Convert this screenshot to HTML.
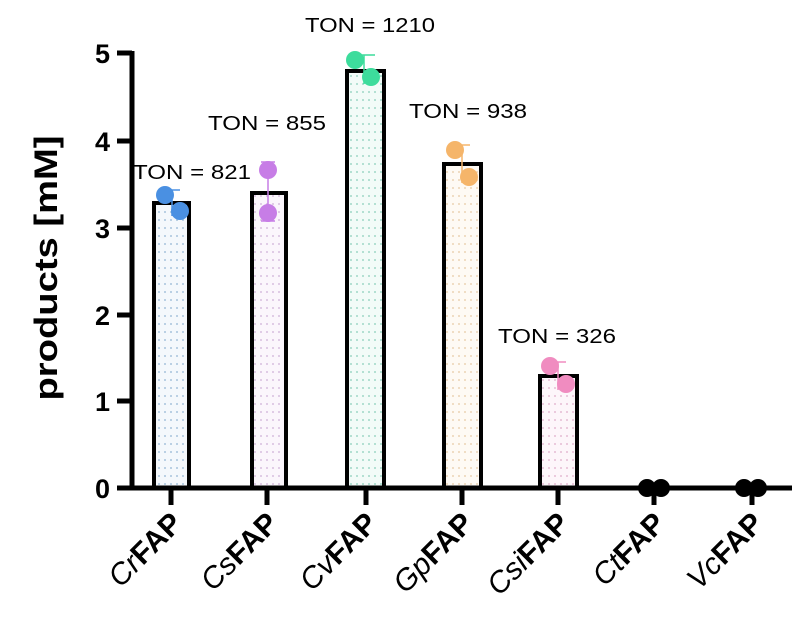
<!DOCTYPE html>
<html><head><meta charset="utf-8"><style>html,body{margin:0;padding:0;background:#fff}svg{display:block}</style></head>
<body>
<svg width="806" height="619" viewBox="0 0 806 619" xmlns="http://www.w3.org/2000/svg" font-family="'Liberation Sans', sans-serif">
<defs>
<pattern id="pb" width="6" height="8" patternUnits="userSpaceOnUse"><rect width="6" height="8" fill="#f4f8fc"/><circle cx="3" cy="4" r="1" fill="#a8c4dc"/></pattern>
<pattern id="pp" width="6" height="8" patternUnits="userSpaceOnUse"><rect width="6" height="8" fill="#fbf6fc"/><circle cx="3" cy="4" r="1" fill="#d8bfe0"/></pattern>
<pattern id="pg" width="6" height="8" patternUnits="userSpaceOnUse"><rect width="6" height="8" fill="#f2fbf8"/><circle cx="3" cy="4" r="1" fill="#9fd8c8"/></pattern>
<pattern id="po" width="6" height="8" patternUnits="userSpaceOnUse"><rect width="6" height="8" fill="#fefaf4"/><circle cx="3" cy="4" r="1" fill="#ecd4b4"/></pattern>
<pattern id="pk" width="6" height="8" patternUnits="userSpaceOnUse"><rect width="6" height="8" fill="#fdf6fa"/><circle cx="3" cy="4" r="1" fill="#e6bcd4"/></pattern>
</defs>
<g stroke="#000" stroke-width="4">
<rect x="154" y="203" width="35" height="285" fill="url(#pb)"/>
<rect x="252" y="193" width="34" height="295" fill="url(#pp)"/>
<rect x="347" y="71" width="37" height="417" fill="url(#pg)"/>
<rect x="444" y="164" width="37" height="324" fill="url(#po)"/>
<rect x="540" y="376" width="37" height="112" fill="url(#pk)"/>
</g>
<g stroke-width="1.5">
<line x1="172" y1="190" x2="172" y2="216" stroke="#4a90e2"/><line x1="166" y1="190" x2="180" y2="190" stroke="#4a90e2"/>
<line x1="268" y1="162" x2="268" y2="221" stroke="#c77de6"/><line x1="261" y1="162" x2="275" y2="162" stroke="#c77de6"/><line x1="261" y1="221" x2="275" y2="221" stroke="#c77de6"/>
<line x1="364" y1="55" x2="364" y2="84" stroke="#3ddc9c"/><line x1="358" y1="55" x2="375" y2="55" stroke="#3ddc9c"/>
<line x1="462" y1="145" x2="462" y2="183" stroke="#f5b56a"/><line x1="455" y1="145" x2="470" y2="145" stroke="#f5b56a"/>
<line x1="558" y1="362" x2="558" y2="390" stroke="#f08cc0"/><line x1="550" y1="362" x2="566" y2="362" stroke="#f08cc0"/>
</g>
<circle cx="165" cy="195" r="9" fill="#4a90e2"/><circle cx="180" cy="211" r="9" fill="#4a90e2"/>
<circle cx="268" cy="170" r="9" fill="#c77de6"/><circle cx="268" cy="213" r="9" fill="#c77de6"/>
<circle cx="355" cy="60" r="9" fill="#3ddc9c"/><circle cx="371" cy="77" r="9" fill="#3ddc9c"/>
<circle cx="455" cy="150" r="9" fill="#f5b56a"/><circle cx="469" cy="177" r="9" fill="#f5b56a"/>
<circle cx="550" cy="366" r="9" fill="#f08cc0"/><circle cx="566" cy="384" r="9" fill="#f08cc0"/>
<g stroke="#000" stroke-width="5">
<line x1="132" y1="51" x2="132" y2="490"/>
<line x1="130" y1="488" x2="792" y2="488"/>
<line x1="117" y1="53" x2="132" y2="53"/><line x1="117" y1="141" x2="132" y2="141"/><line x1="117" y1="228" x2="132" y2="228"/><line x1="117" y1="315" x2="132" y2="315"/><line x1="117" y1="401" x2="132" y2="401"/>
<line x1="117" y1="488" x2="132" y2="488"/>
<line x1="171" y1="488" x2="171" y2="505"/><line x1="267" y1="488" x2="267" y2="505"/><line x1="366" y1="488" x2="366" y2="505"/><line x1="462" y1="488" x2="462" y2="505"/><line x1="558" y1="488" x2="558" y2="505"/><line x1="654" y1="488" x2="654" y2="505"/><line x1="752" y1="488" x2="752" y2="505"/>
</g>
<circle cx="647" cy="488" r="9" fill="#000"/><circle cx="661" cy="488" r="9" fill="#000"/>
<circle cx="744" cy="488" r="9" fill="#000"/><circle cx="758" cy="488" r="9" fill="#000"/>
<g font-size="27" font-weight="bold" text-anchor="end">
<text x="110" y="63">5</text><text x="110" y="151">4</text><text x="110" y="238">3</text><text x="110" y="325">2</text><text x="110" y="411">1</text><text x="110" y="498">0</text>
</g>
<text transform="translate(57,268) rotate(-90)" font-size="32" font-weight="bold" text-anchor="middle" textLength="265" lengthAdjust="spacingAndGlyphs">products [mM]</text>
<g font-size="20" text-anchor="middle">
<text x="370" y="32" textLength="130" lengthAdjust="spacingAndGlyphs">TON = 1210</text>
<text x="267" y="130" textLength="118" lengthAdjust="spacingAndGlyphs">TON = 855</text>
<text x="192" y="179" textLength="118" lengthAdjust="spacingAndGlyphs">TON = 821</text>
<text x="468" y="118" textLength="118" lengthAdjust="spacingAndGlyphs">TON = 938</text>
<text x="557" y="343" textLength="118" lengthAdjust="spacingAndGlyphs">TON = 326</text>
</g>
<g font-size="30" text-anchor="end">
<text transform="translate(184,525) rotate(-45)"><tspan font-style="italic">Cr</tspan><tspan font-weight="bold">FAP</tspan></text>
<text transform="translate(280,525) rotate(-45)"><tspan font-style="italic">Cs</tspan><tspan font-weight="bold">FAP</tspan></text>
<text transform="translate(379,525) rotate(-45)"><tspan font-style="italic">Cv</tspan><tspan font-weight="bold">FAP</tspan></text>
<text transform="translate(475,525) rotate(-45)"><tspan font-style="italic">Gp</tspan><tspan font-weight="bold">FAP</tspan></text>
<text transform="translate(571,525) rotate(-45)"><tspan font-style="italic">Csi</tspan><tspan font-weight="bold">FAP</tspan></text>
<text transform="translate(667,525) rotate(-45)"><tspan font-style="italic">Ct</tspan><tspan font-weight="bold">FAP</tspan></text>
<text transform="translate(765,525) rotate(-45)"><tspan font-style="italic">Vc</tspan><tspan font-weight="bold">FAP</tspan></text>
</g>
</svg>
</body></html>
